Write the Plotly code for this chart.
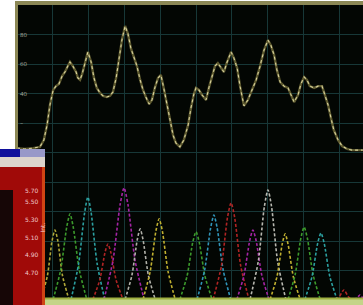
import plotly.graph_objects as go

# ---------------- data (x in grid divisions, y in grid divisions) ----------------
upper_x = [0.00, 0.22, 0.45, 0.64, 0.75, 0.84, 0.92, 1.01, 1.09, 1.17, 1.26, 1.34, 1.42, 1.48,
           1.56, 1.65, 1.70, 1.76, 1.82, 1.90, 1.98, 2.07, 2.15, 2.23, 2.32, 2.40, 2.51, 2.60,
           2.68, 2.77, 2.85, 2.93, 3.02, 3.10, 3.18, 3.27, 3.35, 3.44, 3.52, 3.60, 3.69, 3.77,
           3.85, 3.94, 4.02, 4.11, 4.19, 4.27, 4.36, 4.44, 4.55, 4.66, 4.78, 4.86, 4.94, 5.00,
           5.08, 5.17, 5.28, 5.36, 5.45, 5.53, 5.61, 5.70, 5.78, 5.87, 5.98, 6.06, 6.15, 6.23,
           6.34, 6.45, 6.56, 6.68, 6.79, 6.90, 7.01, 7.09, 7.18, 7.26, 7.35, 7.46, 7.57, 7.65,
           7.74, 7.85, 7.93, 8.02, 8.10, 8.18, 8.30, 8.41, 8.52, 8.60, 8.69, 8.77, 8.85, 8.97,
           9.08, 9.22, 9.36, 9.50, 9.66]
upper_y = [5.15, 5.12, 5.15, 5.19, 5.42, 5.93, 6.61, 7.12, 7.25, 7.32, 7.59, 7.73, 7.93, 8.07,
           7.93, 7.73, 7.53, 7.46, 7.66, 8.07, 8.41, 8.07, 7.53, 7.19, 7.02, 6.92, 6.88, 6.92,
           7.05, 7.53, 8.14, 8.81, 9.29, 9.02, 8.54, 8.20, 7.93, 7.46, 7.12, 6.88, 6.64, 6.78,
           7.19, 7.53, 7.63, 7.12, 6.61, 6.03, 5.59, 5.32, 5.19, 5.42, 5.93, 6.51, 6.98, 7.19,
           7.12, 6.95, 6.78, 7.19, 7.63, 7.93, 8.03, 7.86, 7.73, 8.07, 8.41, 8.20, 7.86, 7.25,
           6.58, 6.78, 7.12, 7.46, 7.93, 8.47, 8.81, 8.64, 8.31, 7.80, 7.39, 7.25, 7.19, 6.95,
           6.71, 6.95, 7.32, 7.56, 7.46, 7.25, 7.19, 7.25, 7.25, 6.95, 6.61, 6.17, 5.76, 5.42,
           5.22, 5.12, 5.08, 5.08, 5.08]

peak_x = [
    [0.67, 0.85, 0.98, 1.06, 1.14, 1.27, 1.45],
    [1.01, 1.22, 1.39, 1.48, 1.57, 1.74, 1.95],
    [1.51, 1.72, 1.89, 1.98, 2.07, 2.24, 2.45],
    [2.12, 2.31, 2.46, 2.54, 2.62, 2.77, 2.96],
    [2.43, 2.68, 2.88, 2.99, 3.10, 3.30, 3.55],
    [3.02, 3.21, 3.36, 3.44, 3.52, 3.67, 3.86],
    [3.52, 3.72, 3.88, 3.97, 4.06, 4.22, 4.42],
    [4.55, 4.75, 4.91, 5.00, 5.09, 5.25, 5.45],
    [5.03, 5.24, 5.41, 5.50, 5.59, 5.76, 5.97],
    [5.48, 5.71, 5.88, 5.98, 6.08, 6.25, 6.48],
    [6.14, 6.34, 6.50, 6.59, 6.68, 6.84, 7.04],
    [6.51, 6.74, 6.91, 7.01, 7.11, 7.28, 7.51],
    [7.07, 7.26, 7.41, 7.49, 7.57, 7.72, 7.91],
    [7.57, 7.77, 7.93, 8.02, 8.11, 8.27, 8.47],
    [8.04, 8.24, 8.40, 8.49, 8.58, 8.74, 8.94],
    [8.91, 9.01, 9.09, 9.13, 9.17, 9.25, 9.35],
    [9.41, 9.49, 9.55, 9.58, 9.61, 9.67, 9.75],
]
peak_y = [
    [0.02, 0.83, 2.01, 2.37, 2.01, 0.83, 0.02],
    [0.02, 1.02, 2.48, 2.92, 2.48, 1.02, 0.02],
    [0.02, 1.22, 2.97, 3.49, 2.97, 1.22, 0.02],
    [0.02, 0.67, 1.62, 1.90, 1.62, 0.67, 0.02],
    [0.02, 1.33, 3.23, 3.80, 3.23, 1.33, 0.02],
    [0.02, 0.84, 2.05, 2.41, 2.05, 0.84, 0.02],
    [0.02, 0.96, 2.34, 2.75, 2.34, 0.96, 0.02],
    [0.02, 0.81, 1.96, 2.31, 1.96, 0.81, 0.02],
    [0.02, 1.01, 2.45, 2.88, 2.45, 1.01, 0.02],
    [0.02, 1.15, 2.80, 3.29, 2.80, 1.15, 0.02],
    [0.02, 0.83, 2.01, 2.37, 2.01, 0.83, 0.02],
    [0.02, 1.31, 3.17, 3.73, 3.17, 1.31, 0.02],
    [0.02, 0.78, 1.90, 2.24, 1.90, 0.78, 0.02],
    [0.02, 0.86, 2.10, 2.47, 2.10, 0.86, 0.02],
    [0.02, 0.79, 1.93, 2.27, 1.93, 0.79, 0.02],
    [0.02, 0.12, 0.29, 0.34, 0.29, 0.12, 0.02],
    [0.02, 0.06, 0.14, 0.17, 0.14, 0.06, 0.02],
]
peak_colors = ["#b0a838", "#3c9a2c", "#2ca0a0", "#b02424", "#a424a4", "#b0b0a8", "#c0b030",
               "#3c9a2c", "#3094b8", "#b02424", "#a424a4", "#b8b8b0", "#c0b030", "#3c9a2c",
               "#2ca0a0", "#b02424", "#a424a4"]

y_tickvals = [0, 1, 2, 3, 4, 5, 6, 7, 8, 9, 10]
y_ticktext = ["", "", "", "", "", "", "–", "40", "60", "80", ""]

panel_tickvals = ["5.70", "5.50", "5.30", "5.10", "4.90", "4.70"]
panel_label = "Int."

# ---------------- figure ----------------
W, H = 363, 305
ML, MR, MT, MB = 17, 0, 5, 5
PW, PH = W - ML - MR, H - MT - MB


def px(x):
    return (x - ML) / PW


def py(y):
    return (H - MB - y) / PH


fig = go.Figure()

for xs, ys, c in zip(peak_x, peak_y, peak_colors):
    fig.add_trace(go.Scatter(x=xs, y=ys, mode="lines",
                             line=dict(color=c, width=1.6, dash="3px,2px", shape="spline", smoothing=0.7),
                             hoverinfo="skip", showlegend=False))

fig.add_trace(go.Scatter(x=upper_x, y=upper_y, mode="lines",
                         line=dict(color="#5e5a30", width=2.4), hoverinfo="skip", showlegend=False))
fig.add_trace(go.Scatter(x=upper_x, y=upper_y, mode="lines",
                         line=dict(color="#d8d29c", width=1.1, dash="dot"), hoverinfo="skip",
                         showlegend=False))

shapes = []


def rect(x0, y0, x1, y1, color):
    shapes.append(dict(type="rect", xref="paper", yref="paper", x0=px(x0), x1=px(x1),
                       y0=py(y1), y1=py(y0), fillcolor=color, line=dict(width=0), layer="above"))


# frame
rect(15, 1, 363, 5, "#8c8856")
rect(15, 1, 18, 152, "#8c8856")
rect(44, 299, 363, 305, "#c4d488")
rect(44, 297.5, 363, 299.5, "#9fb040")
# overlay window
rect(0, 149, 20, 157, "#10109c")
rect(20, 149, 45, 157, "#9898c8")
rect(0, 157, 45, 167, "#dcd4cc")
rect(0, 167, 45, 305, "#d04414")
rect(0, 167, 42, 305, "#a00a08")
rect(0, 190, 13, 305, "#160606")

annotations = []
for i, t in enumerate(panel_tickvals):
    annotations.append(dict(xref="paper", yref="paper", x=px(23), y=py(190 + i * 17.5),
                            text=t, showarrow=False, font=dict(size=6, color="#f0c8c8",
                                                               family="DejaVu Sans")))
annotations.append(dict(xref="paper", yref="paper", x=px(36), y=py(235), text=panel_label,
                        textangle=-90, showarrow=False,
                        font=dict(size=6, color="#f0c8c8", family="DejaVu Sans")))

fig.update_layout(
    width=W, height=H, autosize=False,
    margin=dict(l=ML, r=MR, t=MT, b=MB, pad=0),
    paper_bgcolor="#ffffff", plot_bgcolor="#030603",
    showlegend=False, shapes=shapes, annotations=annotations,
    xaxis=dict(range=[0, 9.665], dtick=1, tick0=0, showgrid=True, gridcolor="#173737",
               gridwidth=1.2, zeroline=False, showticklabels=False, ticks="", fixedrange=True),
    yaxis=dict(range=[0, 10], tickvals=y_tickvals, ticktext=y_ticktext, showgrid=True,
               gridcolor="#173737", gridwidth=1.2, zeroline=False, ticks="",
               ticklabelposition="inside", tickfont=dict(size=6, color="#b0b0a0"),
               fixedrange=True),
)

fig.write_html("out.html", config={"displayModeBar": False},
               post_script="document.body.style.margin='0';document.body.style.overflow='hidden';")
